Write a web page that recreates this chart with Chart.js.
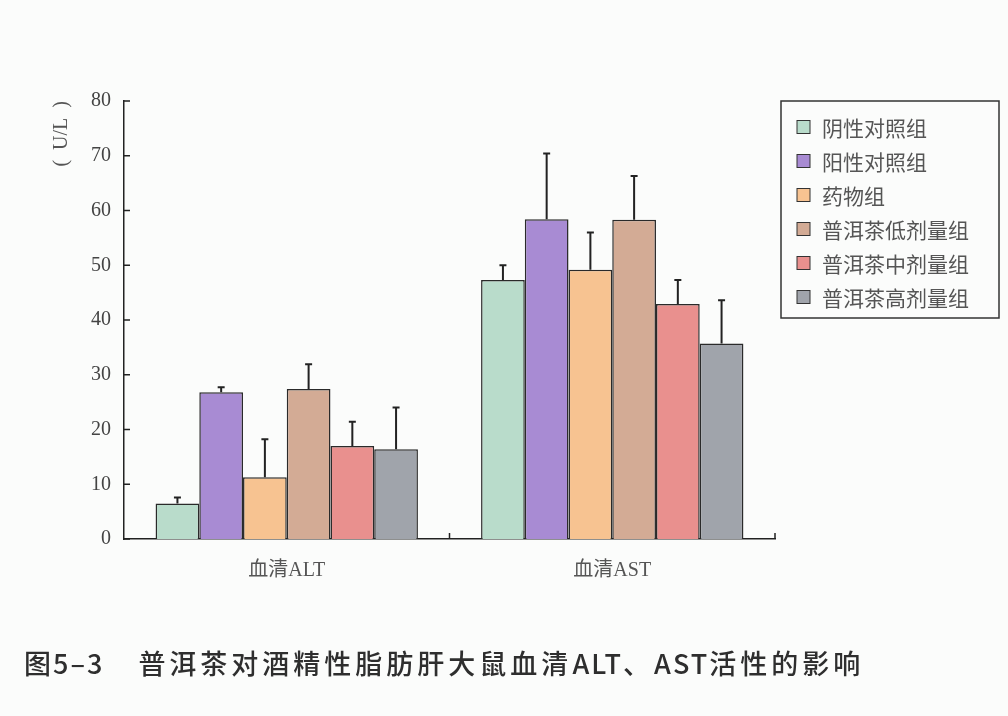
<!DOCTYPE html>
<html>
<head>
<meta charset="utf-8">
<script src="https://cdn.jsdelivr.net/npm/chart.js@4.4.1/dist/chart.umd.min.js"></script>
<style>
    body { margin: 0; background: #fbfcfb; }
    #wrap { position: relative; width: 1008px; height: 716px; }
    #legenda_titulo { position: absolute; left: 24px; top: 645px; font: 500 27px "Noto Sans CJK SC"; color: #2e2e2e; white-space: pre; letter-spacing: 4px; line-height: 36px; }
    #legenda_titulo .num { margin-right: 34px; letter-spacing: 2px; }
    #legenda_titulo .lat { letter-spacing: 2px; }
</style>
</head>
<body>
<div id="wrap">
    <canvas id="myChart" width="1008" height="716"></canvas>
    <div id="legenda_titulo"><span class="num">图5–3</span>普洱茶对酒精性脂肪肝大鼠血清<span class="lat">ALT</span>、<span class="lat">AST</span>活性的影响</div>
</div>
<script>
// dados
const categorias = ['血清ALT', '血清AST']
const grupos = ['阴性对照组', '阳性对照组', '药物组', '普洱茶低剂量组', '普洱茶中剂量组', '普洱茶高剂量组']
const cores = ['#b9dccb', '#a88bd3', '#f7c391', '#d3ab95', '#e9908e', '#a0a4ab']
const media = [[6.5, 47.3], [26.8, 58.4], [11.3, 49.2], [27.4, 58.3], [17.0, 42.9], [16.4, 35.7]]
const erro = [[1.1, 2.7], [0.9, 12.0], [6.9, 6.8], [4.5, 8.0], [4.4, 4.4], [7.6, 7.9]]
const ticks_y = [0, 10, 20, 30, 40, 50, 60, 70, 80]

const serif = '"Liberation Serif", "Noto Sans CJK SC"'

// barras de erro (só para cima)
const barrasErro = {
    id: 'barrasErro',
    afterDatasetsDraw(chart) {
        const ctx = chart.ctx
        const y = chart.scales.y
        ctx.save()
        ctx.strokeStyle = '#222'
        ctx.lineWidth = 2
        chart.data.datasets.forEach((ds, i) => {
            const meta = chart.getDatasetMeta(i)
            meta.data.forEach((bar, j) => {
                const topo = y.getPixelForValue(media[i][j] + erro[i][j])
                ctx.beginPath()
                ctx.moveTo(bar.x, bar.y)
                ctx.lineTo(bar.x, topo)
                ctx.moveTo(bar.x - 3.5, topo)
                ctx.lineTo(bar.x + 3.5, topo)
                ctx.stroke()
            })
        })
        ctx.restore()
    }
}

// marcas dos eixos para dentro + legenda com moldura
const extras = {
    id: 'extras',
    afterDraw(chart) {
        const ctx = chart.ctx
        const y = chart.scales.y
        const area = chart.chartArea
        ctx.save()
        ctx.strokeStyle = '#222'
        ctx.lineWidth = 1.5
        ctx.beginPath()
        for (let t of ticks_y) {
            const py = y.getPixelForValue(t)
            ctx.moveTo(area.left, py)
            ctx.lineTo(area.left + 6, py)
        }
        const n = categorias.length
        for (let k = 1; k <= n; k++) {
            const px = area.left + (area.right - area.left) * k / n
            ctx.moveTo(px, area.bottom)
            ctx.lineTo(px, area.bottom - 6)
        }
        ctx.stroke()

        // legenda
        ctx.lineWidth = 1.5
        ctx.strokeStyle = '#333'
        ctx.strokeRect(781, 101, 218, 217)
        ctx.font = '21px "Noto Sans CJK SC"'
        ctx.textBaseline = 'middle'
        grupos.forEach((g, i) => {
            const cy = 127 + i * 34
            ctx.fillStyle = cores[i]
            ctx.fillRect(797, cy - 6.5, 13, 13)
            ctx.lineWidth = 1
            ctx.strokeStyle = '#333'
            ctx.strokeRect(797, cy - 6.5, 13, 13)
            ctx.fillStyle = '#555'
            ctx.fillText(g, 822, cy + 1)
        })
        ctx.restore()
    }
}

const ctx = document.getElementById('myChart').getContext('2d')
const myChart = new Chart(ctx, {
    type: 'bar',
    data: {
        labels: categorias,
        datasets: grupos.map((g, i) => ({
            label: g,
            data: media[i],
            backgroundColor: cores[i],
            borderColor: '#2a2a2a',
            borderWidth: 1.5,
            categoryPercentage: 0.806,
            barPercentage: 1
        }))
    },
    options: {
        responsive: false,
        animation: false,
        layout: { padding: { top: 101, right: 233, left: 0, bottom: 0 } },
        plugins: {
            legend: { display: false },
            tooltip: { enabled: false }
        },
        scales: {
            x: {
                grid: { display: false, drawTicks: false },
                border: { display: true, color: '#222', width: 1.5 },
                ticks: { color: '#555', font: { family: serif, size: 20 }, padding: 20 },
                afterFit(scale) { scale.height = 177 }
            },
            y: {
                min: 0,
                max: 80,
                grid: { display: false, drawTicks: false },
                border: { display: true, color: '#222', width: 1.5 },
                afterBuildTicks(scale) { scale.ticks = ticks_y.map(v => ({ value: v })) },
                ticks: { color: '#444', font: { family: serif, size: 20 }, padding: 13 },
                title: {
                    display: true,
                    text: '(  U/L  )',
                    align: 'end',
                    color: '#555',
                    font: { family: serif, size: 20 },
                    padding: { top: 50, bottom: 0 }
                },
                afterFit(scale) { scale.width = 124 }
            }
        }
    },
    plugins: [barrasErro, extras]
})
</script>
</body>
</html>
